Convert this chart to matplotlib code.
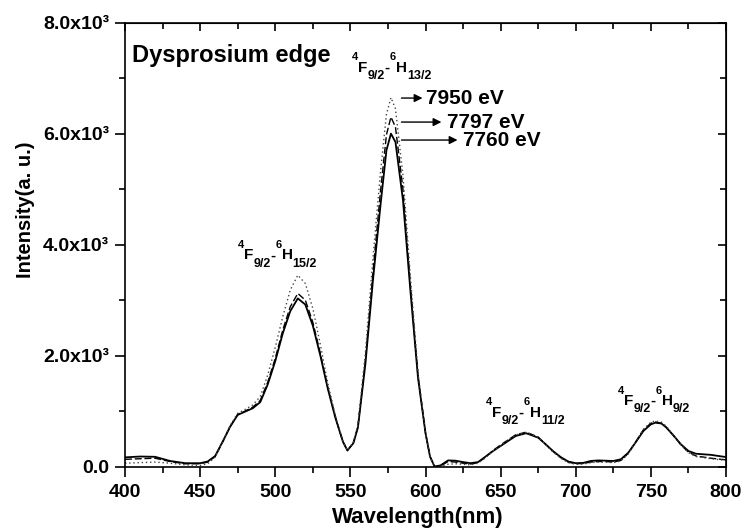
import matplotlib
matplotlib.use("Agg")
import matplotlib.pyplot as plt
from matplotlib.ticker import MultipleLocator, FuncFormatter

# --------------------------------------------------
# Data (wavelength in nm, intensity a.u.)
# --------------------------------------------------
wavelength = [400, 410, 420, 430, 440, 450, 455, 460, 465, 470,
              475, 480, 485, 490, 495, 500, 505, 510, 515, 520,
              525, 530, 535, 540, 545, 548, 552, 555, 560, 565,
              570, 574, 577, 580, 585, 590, 595, 600, 603, 606,
              610, 615, 620, 625, 630, 635, 640, 645, 650, 655,
              660, 667, 675, 680, 685, 690, 695, 700, 705, 710,
              715, 720, 725, 730, 735, 740, 745, 750, 753, 757,
              760, 765, 770, 775, 780, 790, 800]

i_7760 = [165, 180, 175, 100, 60, 60, 90, 190, 450, 720,
          930, 990, 1050, 1160, 1480, 1900, 2400, 2800, 3030, 2920,
          2540, 2000, 1400, 880, 450, 290, 420, 700, 1850, 3350,
          4700, 5700, 6000, 5850, 4800, 3150, 1600, 600, 180, 0,
          20, 110, 105, 80, 60, 80, 180, 280, 370, 460,
          550, 600, 520, 400, 275, 170, 90, 60, 65, 100,
          110, 105, 100, 130, 250, 440, 640, 760, 790, 775,
          710, 560, 400, 280, 230, 210, 170]

i_7797 = [130, 140, 150, 90, 50, 50, 80, 180, 440, 720,
          940, 1000, 1070, 1190, 1520, 1950, 2460, 2880, 3120, 3000,
          2600, 2040, 1420, 890, 450, 285, 430, 720, 1920, 3500,
          4950, 5980, 6300, 6120, 5000, 3250, 1640, 610, 180, 0,
          10, 90, 80, 60, 45, 70, 170, 290, 390, 480,
          570, 620, 530, 400, 270, 160, 80, 50, 55, 80,
          90, 90, 80, 110, 240, 450, 660, 780, 800, 780,
          715, 560, 390, 260, 190, 150, 120]

i_7950 = [60, 70, 80, 60, 30, 20, 50, 170, 450, 740,
          960, 1030, 1110, 1260, 1650, 2150, 2700, 3180, 3450, 3300,
          2850, 2200, 1500, 920, 460, 290, 440, 750, 2050, 3750,
          5300, 6350, 6650, 6450, 5250, 3400, 1700, 620, 170, 0,
          0, 40, 50, 40, 30, 60, 160, 280, 380, 480,
          570, 610, 530, 390, 260, 150, 70, 40, 45, 70,
          80, 80, 70, 100, 230, 450, 670, 800, 820, 800,
          730, 570, 390, 250, 180, 140, 110]

energies = ["7950 eV", "7797 eV", "7760 eV"]
# each transition: (pre-sup, main, sub, pre-sup, main, sub)
transitions = [("4", "F", "9/2", "6", "H", "15/2"),
               ("4", "F", "9/2", "6", "H", "13/2"),
               ("4", "F", "9/2", "6", "H", "11/2"),
               ("4", "F", "9/2", "6", "H", "9/2")]

# --------------------------------------------------
# Figure & axes
# --------------------------------------------------
plt.rcParams["font.family"] = ["Liberation Sans", "DejaVu Sans"]
plt.rcParams["font.weight"] = "bold"
plt.rcParams["axes.labelweight"] = "bold"

fig = plt.figure(figsize=(7.45, 5.32), dpi=100)
ax = fig.add_axes([0.1678, 0.1231, 0.8067, 0.8342])

ax.plot(wavelength, i_7760, color="black", lw=1.3, ls="-")
ax.plot(wavelength, i_7797, color="black", lw=1.0, ls=(0, (5, 2)))
ax.plot(wavelength, i_7950, color="#444444", lw=1.0, ls=(0, (1, 2)))

ax.set_xlim(400, 800)
ax.set_ylim(0, 8000)
ax.xaxis.set_major_locator(MultipleLocator(50))
ax.xaxis.set_minor_locator(MultipleLocator(25))
ax.yaxis.set_major_locator(MultipleLocator(2000))
ax.yaxis.set_minor_locator(MultipleLocator(1000))


def sci_fmt(v, pos):
    if v == 0:
        return "0.0"
    return "%.1fx10\u00b3" % (v / 1000.0)


ax.yaxis.set_major_formatter(FuncFormatter(sci_fmt))

ax.tick_params(which="both", direction="out", labelsize=14, width=1.2)
ax.tick_params(which="major", length=7)
ax.tick_params(which="minor", length=4)
ax.tick_params(axis="x", pad=5.5)
ax.tick_params(axis="y", pad=4.5)

# inward ticks on right and top spines
secy = ax.secondary_yaxis("right")
secy.yaxis.set_major_locator(MultipleLocator(2000))
secy.yaxis.set_minor_locator(MultipleLocator(1000))
secy.tick_params(which="both", direction="in", labelright=False, width=1.2)
secy.tick_params(which="major", length=6)
secy.tick_params(which="minor", length=4)

secx = ax.secondary_xaxis("top")
secx.xaxis.set_major_locator(MultipleLocator(50))
secx.xaxis.set_minor_locator(MultipleLocator(25))
secx.tick_params(which="both", direction="in", labeltop=False, width=1.2)
secx.tick_params(which="major", length=6)
secx.tick_params(which="minor", length=4)

for s in ax.spines.values():
    s.set_linewidth(1.2)

ax.set_xlabel("Wavelength(nm)", fontsize=16)
ax.xaxis.set_label_coords(0.4875, -0.091)
ax.set_ylabel("Intensity(a. u.)", fontsize=14.5)
ax.yaxis.set_label_coords(-0.15, 0.579)

# --------------------------------------------------
# Annotations
# --------------------------------------------------
ax.text(404.5, 7410, "Dysprosium edge", fontsize=17, va="center", ha="left")

renderer = fig.canvas.get_renderer()
px2pt = 72.0 / fig.dpi


def term_label(x, y, parts):
    """Draw 4F9/2-6H13/2 style label with left edge at (x, y) = F baseline."""
    sup_a, main_a, sub_a, sup_b, main_b, sub_b = parts
    pieces = [(sup_a, 8, 8.2), (main_a, 11, 0), (sub_a, 9, -5.3), ("-", 11, 0),
              (sup_b, 8, 8.2), (main_b, 11, 0), (sub_b, 9, -5.3)]
    dx = 0.0
    for txt, size, dy in pieces:
        t = ax.annotate(txt, xy=(x, y), xycoords="data", xytext=(dx, dy),
                        textcoords="offset points", ha="left", va="baseline",
                        fontsize=size)
        dx += t.get_window_extent(renderer).width * px2pt


label_pos = [(475.0, 3735), (551.1, 7116), (640.3, 898), (728.1, 1108)]
for parts, (x, y) in zip(transitions, label_pos):
    term_label(x, y, parts)

arrow_y = [6642, 6209, 5885]
arrow_x0 = 584
arrow_x1 = [598, 610.6, 621.3]
text_x = [600.3, 614, 625]
for label, y0, x1, tx in zip(energies, arrow_y, arrow_x1, text_x):
    ax.annotate("", xy=(x1, y0), xytext=(arrow_x0, y0),
                arrowprops=dict(arrowstyle="-|>", color="black", lw=1.0,
                                mutation_scale=12, shrinkA=0, shrinkB=0))
    ax.text(tx, y0, label, fontsize=15, ha="left", va="center")

fig.savefig("out.png", dpi=100)
